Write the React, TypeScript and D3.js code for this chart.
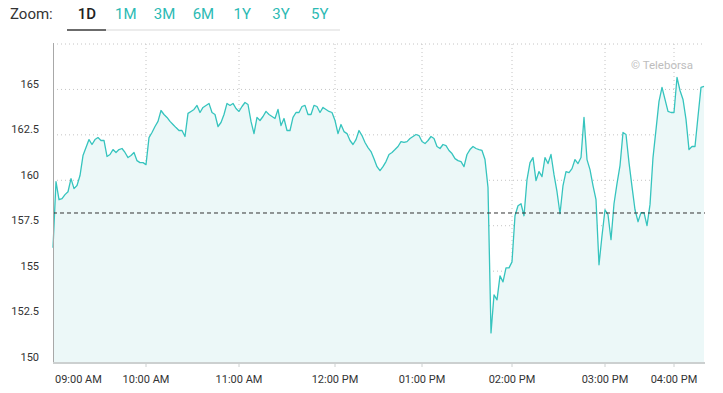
import { useEffect } from "react";
import * as d3 from "d3";

// intraday prices, one per ordinal slot (evenly spaced on the x axis)
const prices = [
  156.29, 159.93, 158.93, 158.99, 159.21, 159.37, 160.09, 159.54, 159.71, 160.26,
  161.36, 161.8, 162.24, 161.97, 162.24, 162.35, 162.19, 162.19, 161.31, 161.42,
  161.69, 161.53, 161.69, 161.75, 161.53, 161.25, 161.36, 161.53, 161.08, 160.97,
  160.97, 160.86, 162.35, 162.63, 162.96, 163.24, 163.84, 163.62, 163.46, 163.24,
  163.07, 162.9, 162.74, 162.74, 162.41, 163.68, 163.79, 163.9, 164.12, 163.73,
  164.01, 164.12, 164.23, 163.73, 163.62, 162.96, 163.18, 163.62, 164.23, 164.12,
  164.23, 163.95, 163.79, 164.06, 164.28, 164.17, 163.24, 162.57, 163.46, 163.29,
  163.51, 163.79, 163.62, 163.51, 163.4, 163.9, 163.01, 163.4, 162.74, 162.74,
  163.46, 163.73, 163.73, 164.06, 164.12, 163.62, 163.62, 164.12, 164.06, 163.73,
  164.01, 163.9, 163.79, 163.73, 163.29, 162.57, 163.07, 162.68, 162.57, 162.19,
  161.97, 162.24, 162.74, 162.46, 162.08, 161.8, 161.58, 161.19, 160.75, 160.53,
  160.75, 161.03, 161.42, 161.53, 161.69, 161.86, 162.13, 162.08, 162.13, 162.3,
  162.41, 162.52, 162.46, 162.13, 162.02, 162.19, 162.41, 162.3, 161.86, 161.75,
  161.97, 161.91, 161.64, 161.47, 161.19, 161.08, 161.03, 160.75, 161.42, 161.69,
  161.86, 161.75, 161.69, 161.64, 161.14, 159.6, 151.6, 153.69, 153.42, 154.74,
  154.41, 155.18, 155.18, 155.51, 158.05, 158.6, 158.71, 158.05, 160.04, 160.97,
  161.25, 159.98, 160.48, 160.2, 161.25, 160.92, 161.42, 160.31, 159.37, 158.16,
  159.71, 160.48, 160.42, 160.64, 161.14, 160.92, 161.25, 163.46, 161.14, 160.59,
  159.71, 158.93, 155.35, 156.95, 158.38, 158.11, 156.73, 158.71, 159.82, 160.81,
  162.63, 162.52, 160.97, 159.65, 158.38, 157.72, 158.22, 158.22, 157.5, 158.66,
  161.25, 162.79, 164.34, 165.11, 164.45, 163.79, 163.73, 163.73, 165.66, 164.94,
  164.45, 163.35, 161.69, 161.86, 161.86, 163.51, 165.11, 165.17,
];

const hourLabels = ["09:00 AM", "10:00 AM", "11:00 AM", "12:00 PM", "01:00 PM", "02:00 PM", "03:00 PM", "04:00 PM"];
const hourIndex = [0, 31, 62, 94, 123, 153, 184, 207];

const yGrid = [150, 152.5, 155, 157.5, 160, 162.5, 165, 167.5];
const yLabels = [150, 152.5, 155, 157.5, 160, 162.5, 165];
const prevClose = 158.2;

const zoomButtons = ["1D", "1M", "3M", "6M", "1Y", "3Y", "5Y"];

const W = 723, H = 393;
const m = { top: 44, right: 18, bottom: 31, left: 53 };
const FONT = "Roboto, sans-serif";
const TEAL = "#36c4be";

export default function App() {
  useEffect(() => {
    document.body.style.margin = "0";
  }, []);

  const x = d3.scaleLinear().domain([0, prices.length - 1]).range([m.left, W - m.right - 1]);
  const y = d3.scaleLinear().domain([150, 167.5]).range([H - m.bottom, m.top]);
  const x0 = m.left, x1 = W - m.right, yB = H - m.bottom;

  const line = d3.line<number>().x((_, i) => x(i)).y(d => y(d));
  const area = d3.area<number>().x((_, i) => x(i)).y0(yB).y1(d => y(d));

  return (
    <svg width={W} height={H} style={{ display: "block" }} fontFamily={FONT}>
      {/* zoom bar */}
      <text x={10} y={19} fontSize={15} fill="#333">Zoom:</text>
      <rect x={67} y={29} width={273} height={2} fill="#ececec" />
      <rect x={67} y={29} width={39} height={2} fill="#6b6b6b" />
      {zoomButtons.map((b, i) => (
        <text key={b} x={87 + i * 38.8} y={19} fontSize={15} textAnchor="middle"
          fill={i === 0 ? "#222" : "#2cbab4"} fontWeight={i === 0 ? 500 : 400}>{b}</text>
      ))}

      {/* grid */}
      {yGrid.map(v => (
        <line key={v} x1={x0} x2={x1} y1={y(v)} y2={y(v)} stroke="#c4c4c4" strokeDasharray="1 3" />
      ))}
      {hourIndex.slice(1).map(i => (
        <line key={i} x1={x(i)} x2={x(i)} y1={m.top} y2={yB} stroke="#c4c4c4" strokeDasharray="1 3" />
      ))}

      {/* series */}
      <path d={area(prices) ?? ""} fill="#ecf8f8" />
      <path d={line(prices) ?? ""} fill="none" stroke={TEAL} strokeWidth={1.3} strokeLinejoin="round" />

      {/* previous close */}
      <line x1={x0} x2={x1} y1={y(prevClose)} y2={y(prevClose)} stroke="#333" strokeDasharray="4 3" />

      {/* axes */}
      <line x1={x0 + 0.5} x2={x0 + 0.5} y1={m.top - 1} y2={yB + 1} stroke="#a8a8a8" />
      <line x1={x0} x2={x1} y1={yB + 1} y2={yB + 1} stroke="#ccd0d0" strokeWidth={2} />
      {hourIndex.slice(1).map(i => (
        <line key={"t" + i} x1={x(i)} x2={x(i)} y1={yB + 1} y2={yB + 5} stroke="#ccd0d0" />
      ))}

      {yLabels.map(v => (
        <text key={v} x={39} y={y(v) - 1.5} fontSize={11} textAnchor="end" fill="#333">{v}</text>
      ))}
      {hourLabels.map((l, k) => (
        <text key={l} x={k === 0 ? x0 + 2 : x(hourIndex[k])} y={383} fontSize={11}
          textAnchor={k === 0 ? "start" : "middle"} fill="#333">{l}</text>
      ))}

      <text x={631} y={69} fontSize={11.5} fill="#bdbdbd">© Teleborsa</text>
    </svg>
  );
}
